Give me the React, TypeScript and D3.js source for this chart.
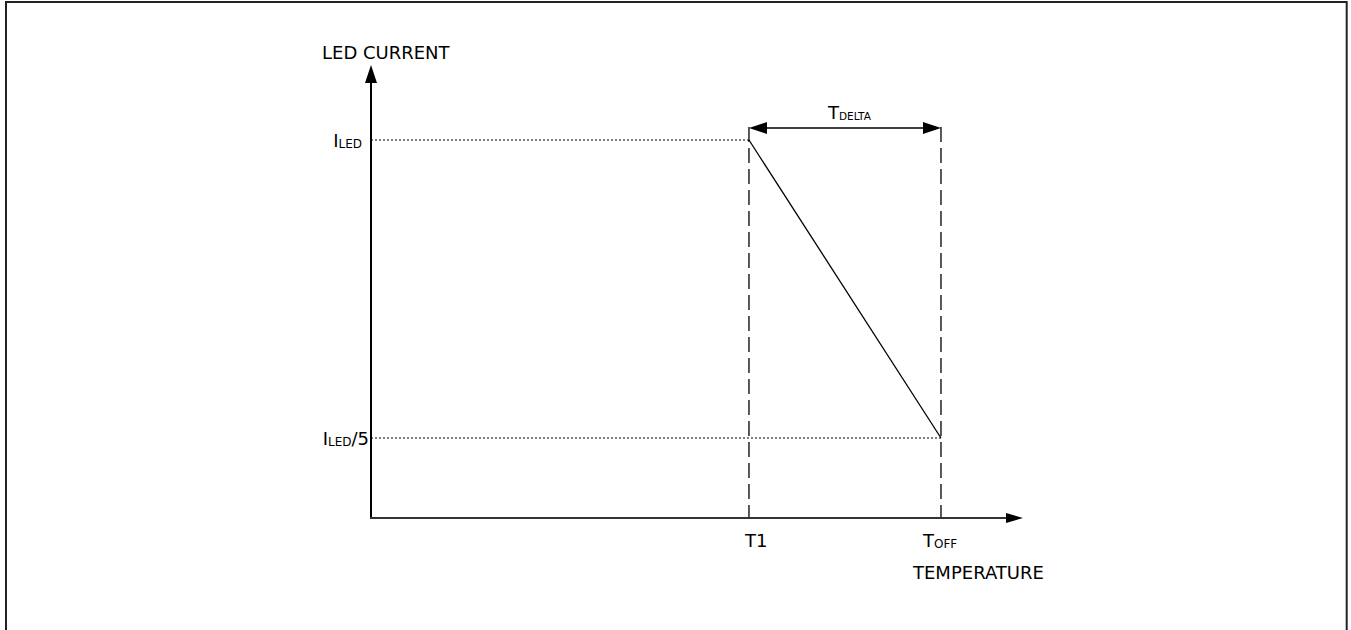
import React from "react";
import * as d3 from "d3";

// ---- data ----
const tempLabels = ["T1", "TOFF"];
const tempValues = [100, 150.8]; // arbitrary temperature units
const currentLabels = ["ILED", "ILED/5"];
const currentValues = [1, 0.2]; // fraction of ILED
const deratingTemps = [100, 150.8];
const deratingCurrents = [1, 0.2];
const axisTitles = ["LED CURRENT", "TEMPERATURE"];

const W = 1351;
const H = 630;
const FONT = "'DejaVu Sans', Verdana, sans-serif";

export default function App() {
  const x = d3.scaleLinear().domain([0, 172.5]).range([371, 1023]);
  const y = d3.scaleLinear().domain([0, 1]).range([512.5, 140]);
  const axisY = 518;
  const yTop = 65;
  const x0 = x(0);
  const xEnd = x(172.5);

  const line = d3
    .line<[number, number]>()
    .x((d) => x(d[0]))
    .y((d) => y(d[1]));
  const pts: [number, number][] = deratingTemps.map((t, i) => [t, deratingCurrents[i]]);

  const t1 = x(tempValues[0]);
  const toff = x(tempValues[1]);
  const arrowY = 128;

  const sub = (main: string, subtxt: string, rest: string, subSize: number) => (
    <>
      {main}
      <tspan fontSize={subSize} dy={1}>{subtxt}</tspan>
      {rest ? <tspan dy={-1}>{rest}</tspan> : null}
    </>
  );

  return (
    <svg
      width={W}
      height={H}
      style={{ position: "absolute", left: 0, top: 0, background: "#fff" }}
      fontFamily={FONT}
    >
      <rect x={6} y={2} width={1340.7} height={700} fill="none" stroke="#222" strokeWidth={2} />

      {/* guide dotted lines */}
      <line x1={x0} x2={t1} y1={y(currentValues[0])} y2={y(currentValues[0])} stroke="#000" strokeWidth={1} strokeDasharray="2,2" />
      <line x1={x0} x2={toff} y1={y(currentValues[1])} y2={y(currentValues[1])} stroke="#000" strokeWidth={1} strokeDasharray="2,2" />

      {/* dashed verticals */}
      {tempValues.map((t, i) => (
        <line key={i} x1={x(t)} x2={x(t)} y1={arrowY - 1} y2={axisY} stroke="#000" strokeWidth={1.3} strokeDasharray="15,6" />
      ))}

      {/* derating line */}
      <path d={line(pts) || ""} fill="none" stroke="#000" strokeWidth={1.3} />

      {/* TDELTA arrow */}
      <line x1={t1 + 10} x2={toff - 10} y1={arrowY} y2={arrowY} stroke="#000" strokeWidth={1.5} />
      <path d={`M${t1},${arrowY} L${t1 + 18},${arrowY - 6} L${t1 + 18},${arrowY + 6} Z`} fill="#000" />
      <path d={`M${toff},${arrowY} L${toff - 18},${arrowY - 6} L${toff - 18},${arrowY + 6} Z`} fill="#000" />

      {/* axes */}
      <line x1={x0} x2={x0} y1={axisY} y2={yTop + 12} stroke="#000" strokeWidth={2} />
      <path d={`M${x0},${yTop} L${x0 - 6},${yTop + 18} L${x0 + 6},${yTop + 18} Z`} fill="#000" />
      <line x1={x0 - 1} x2={xEnd - 10} y1={axisY} y2={axisY} stroke="#333" strokeWidth={2.2} />
      <path d={`M${xEnd},${axisY} L${xEnd - 17},${axisY - 5} L${xEnd - 17},${axisY + 5} Z`} fill="#000" />

      {/* texts */}
      <text x={322} y={59} fontSize={18} fill="#000">{axisTitles[0]}</text>
      <text x={913} y={579} fontSize={18} fill="#000">{axisTitles[1]}</text>

      <text x={362} y={y(currentValues[0]) + 7} fontSize={18} textAnchor="end" fill="#000">
        {sub(currentLabels[0].slice(0, 1), currentLabels[0].slice(1, 4), "", 12)}
      </text>
      <text x={369} y={y(currentValues[1]) + 7} fontSize={18} textAnchor="end" fill="#000">
        {sub(currentLabels[1].slice(0, 1), currentLabels[1].slice(1, 4), currentLabels[1].slice(4), 12)}
      </text>

      <text x={t1 - 4} y={547} fontSize={18} fill="#000">{tempLabels[0]}</text>
      <text x={toff - 18} y={547} fontSize={18} fill="#000">
        {sub(tempLabels[1].slice(0, 1), tempLabels[1].slice(1), "", 12)}
      </text>

      <text x={828} y={119} fontSize={18} fill="#000">
        {sub("T", "DELTA", "", 10.5)}
      </text>
    </svg>
  );
}
